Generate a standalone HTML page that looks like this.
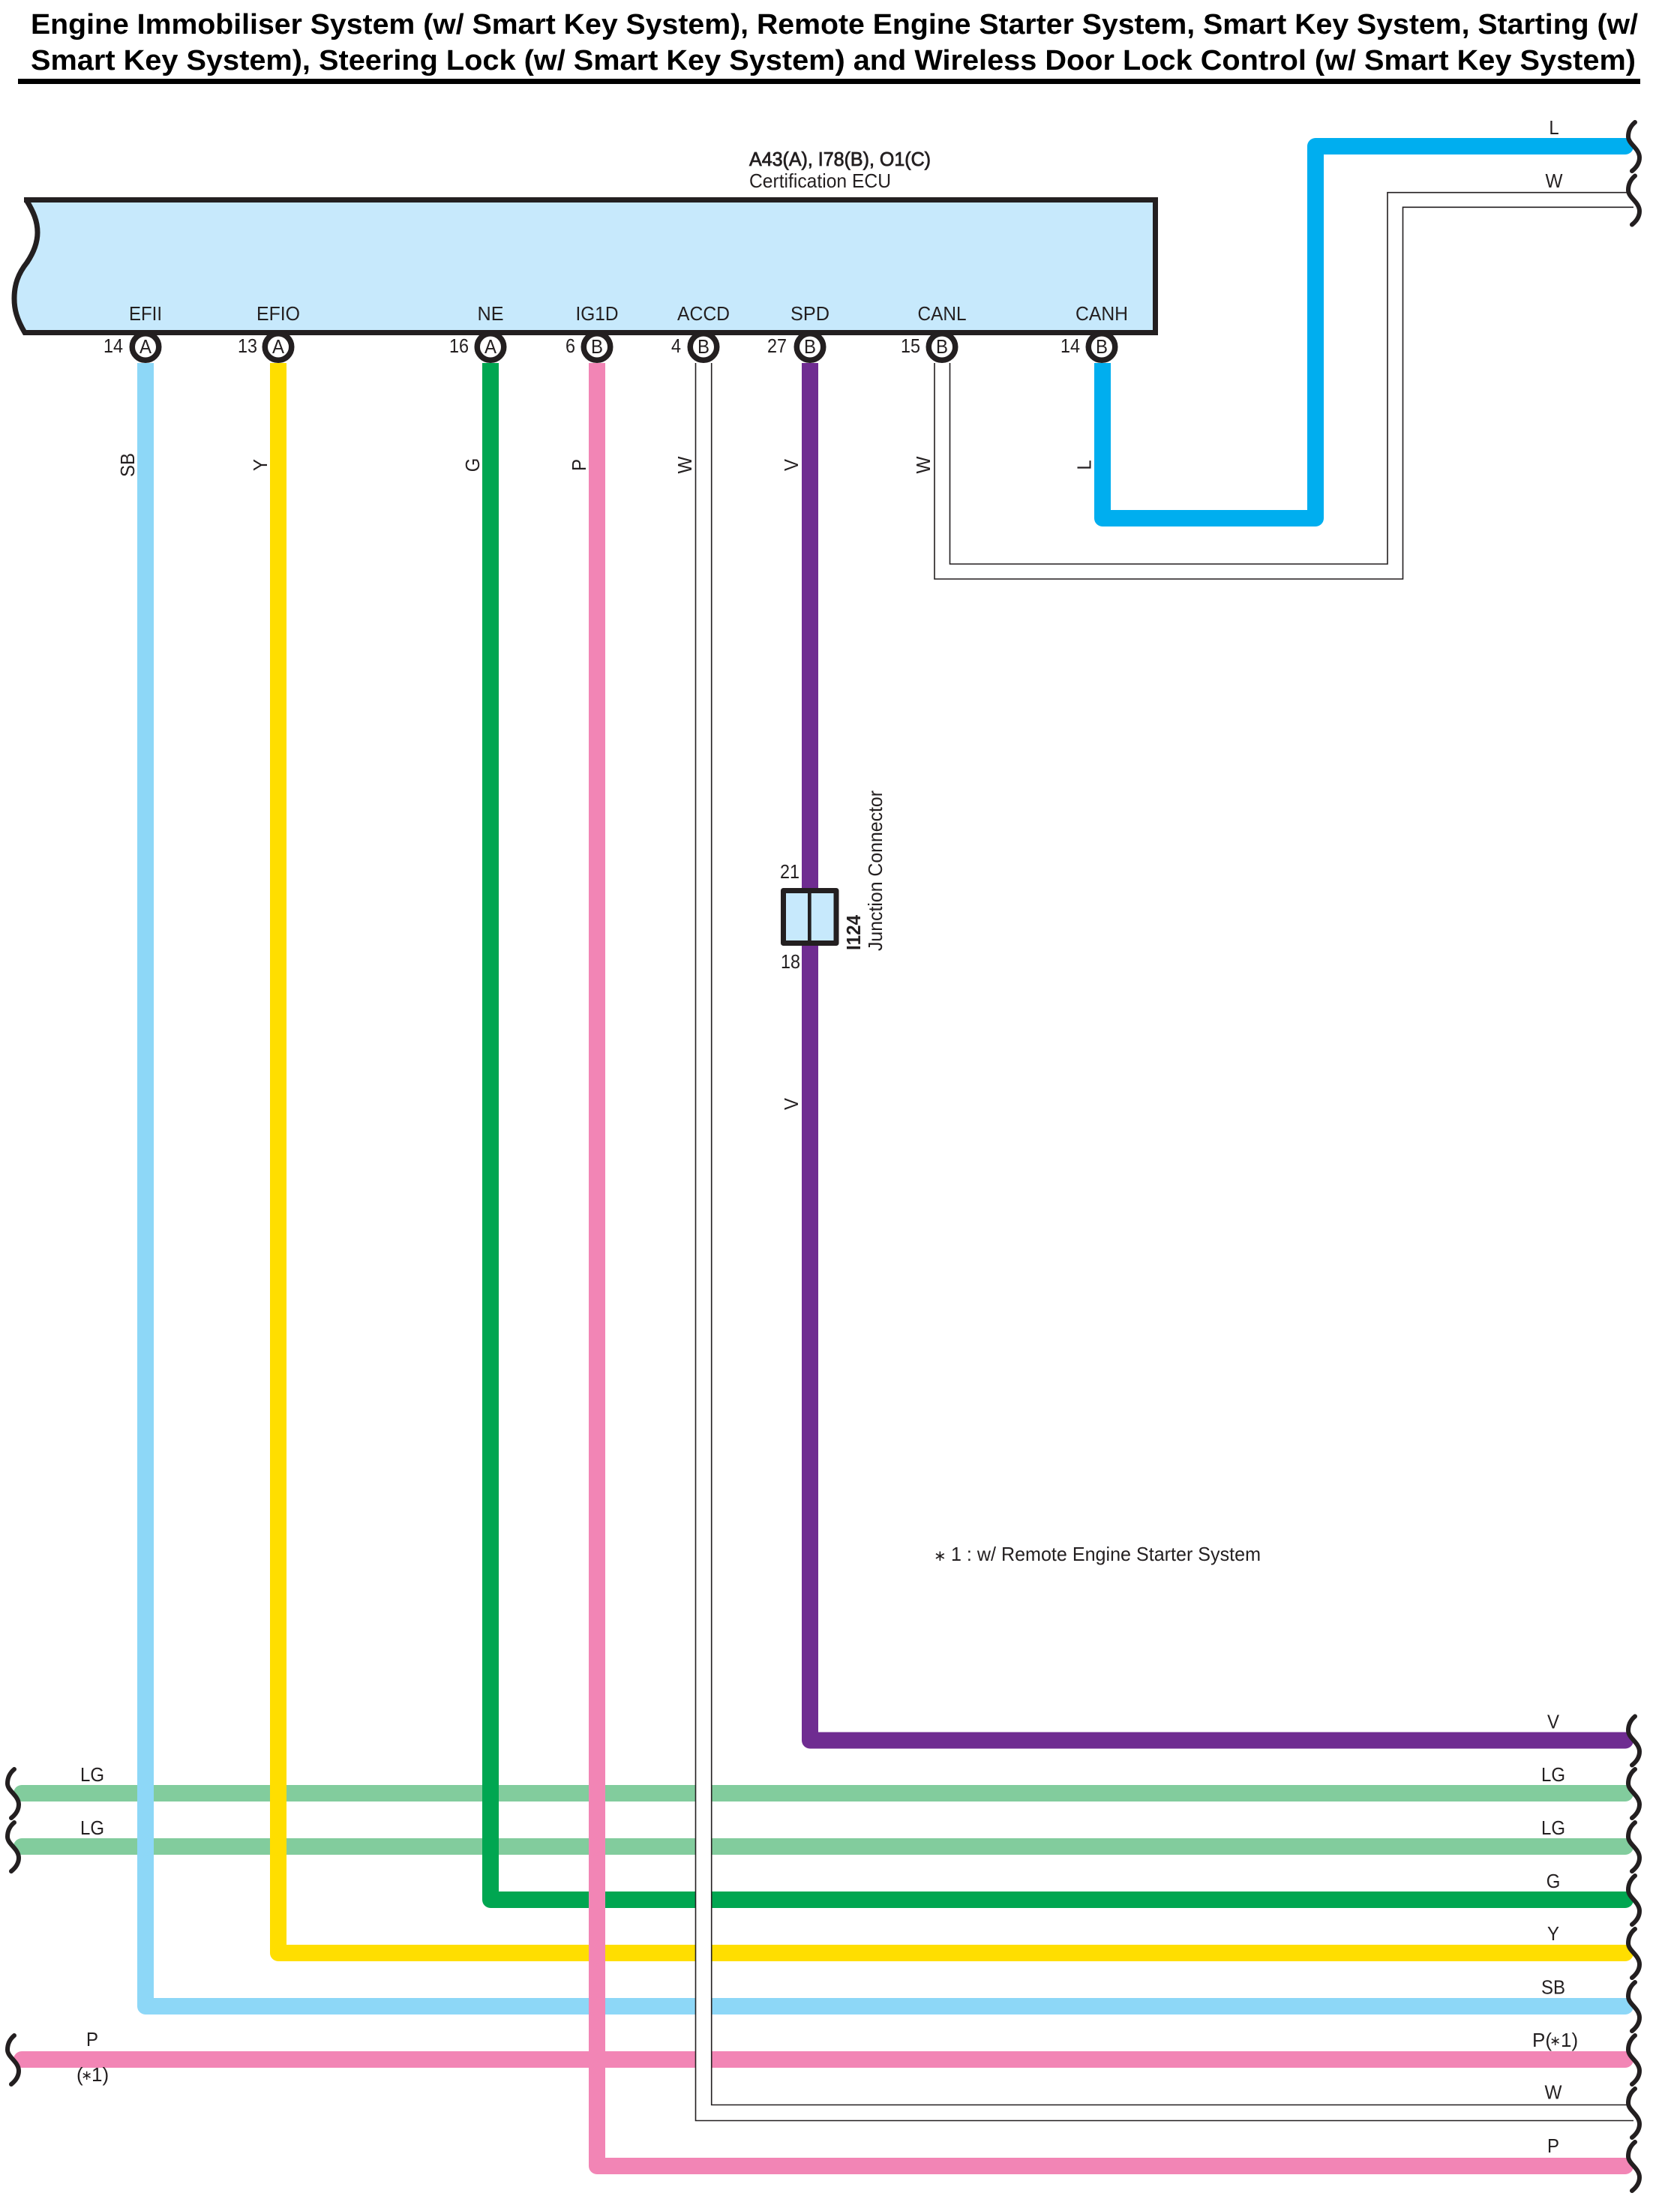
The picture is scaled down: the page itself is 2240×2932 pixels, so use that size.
<!DOCTYPE html>
<html lang="en">
<head>
<meta charset="utf-8">
<title>Engine Immobiliser System Wiring Diagram</title>
<style>
html,body{margin:0;padding:0;background:#fff;}
svg{display:block;}
text{font-family:"Liberation Sans",Arial,sans-serif;fill:#231f20;font-size:26px;}
.m{text-anchor:middle;}
.e{text-anchor:end;}
.t{font-size:38px;font-weight:bold;fill:#000;}
.w{fill:none;stroke-width:22;stroke-linejoin:round;stroke-linecap:butt;}
.r{stroke-linecap:round;}
.thin{fill:none;stroke:#231f20;stroke-width:1.6;}
.s{fill:none;stroke:#231f20;stroke-width:6;stroke-linecap:round;}
</style>
</head>
<body>
<svg xmlns="http://www.w3.org/2000/svg" width="2240" height="2932" viewBox="0 0 2240 2932">
<defs>
<path id="sq" class="s" d="M10,-32 C4,-27 1,-20 1,-13 C1,-3 16,3 16,15 C16,23 11,29 6,33"/>
</defs>
<rect width="2240" height="2932" fill="#fff"/>

<!-- Title -->
<text class="t" x="41" y="45" textLength="2143" lengthAdjust="spacingAndGlyphs">Engine Immobiliser System (w/ Smart Key System), Remote Engine Starter System, Smart Key System, Starting (w/</text>
<text class="t" x="41" y="93" textLength="2140" lengthAdjust="spacingAndGlyphs">Smart Key System), Steering Lock (w/ Smart Key System) and Wireless Door Lock Control (w/ Smart Key System)</text>
<rect x="24" y="105" width="2163" height="7" fill="#000"/>

<!-- Component heading -->
<text x="999" y="221" textLength="242" lengthAdjust="spacingAndGlyphs" stroke="#231f20" stroke-width="0.8">A43(A), I78(B), O1(C)</text>
<text x="999" y="250" textLength="189" lengthAdjust="spacingAndGlyphs">Certification ECU</text>

<!-- Horizontal LG and P wires -->
<path class="w r" stroke="#82cc9d" d="M29,2391 H2167"/>
<path class="w r" stroke="#82cc9d" d="M29,2462 H2167"/>
<path class="w r" stroke="#f285b5" d="M29,2746 H2167"/>

<!-- Main wires -->
<path class="w r" stroke="#8dd7f7" d="M194,484 V2675 H2167" style="stroke-linecap:butt"/>
<path class="w r" stroke="#ffde00" d="M371,484 V2604 H2167" style="stroke-linecap:butt"/>
<path class="w r" stroke="#00a651" d="M654,484 V2533 H2167" style="stroke-linecap:butt"/>
<path class="w r" stroke="#6f2c91" d="M1080,484 V2320.5 H2167" style="stroke-linecap:butt"/>
<circle cx="2167" cy="2675" r="11" fill="#8dd7f7"/>
<circle cx="2167" cy="2604" r="11" fill="#ffde00"/>
<circle cx="2167" cy="2533" r="11" fill="#00a651"/>
<circle cx="2167" cy="2320.5" r="11" fill="#6f2c91"/>

<!-- W wire from ACCD, covering horizontals -->
<path d="M928,484 H948.7 V2806.5 H2178 V2827.5 H928 Z" fill="#fff" stroke="none"/>
<path class="thin" d="M927.5,484 V2827.5 H2178"/>
<path class="thin" d="M948.7,484 V2806.5 H2171"/>

<!-- Pink IG1D -->
<path class="w" stroke="#f285b5" d="M796,484 V2888 H2167"/>
<circle cx="2167" cy="2888" r="11" fill="#f285b5"/>

<!-- CANH L -->
<path class="w" stroke="#00aeef" d="M1470,484 V691 H1754 V195 H2167"/>
<circle cx="2167" cy="195" r="11" fill="#00aeef"/>

<!-- CANL W -->
<path class="thin" d="M1266.5,484 V752 H1850 V256.7 H2171"/>
<path class="thin" d="M1246,484 V772 H1870.5 V276.3 H2178"/>

<!-- ECU -->
<path d="M32,266.5 H1540.5 V443.5 H33 C22,425 19,412 19,398 C19,380 24,365 36,350 C46,335 50,322 50,310 C50,295 45,283 35,266.5 Z" fill="#c7e9fc" stroke="#231f20" stroke-width="7" stroke-linejoin="miter"/>

<g fill="#fff" stroke="#231f20" stroke-width="7.5">
<circle cx="194" cy="462.5" r="17.75"/>
<circle cx="371" cy="462.5" r="17.75"/>
<circle cx="654" cy="462.5" r="17.75"/>
<circle cx="796" cy="462.5" r="17.75"/>
<circle cx="938" cy="462.5" r="17.75"/>
<circle cx="1080" cy="462.5" r="17.75"/>
<circle cx="1256" cy="462.5" r="17.75"/>
<circle cx="1469" cy="462.5" r="17.75"/>
</g>

<!-- ECU pin names -->
<text class="m" x="194" y="427" textLength="44" lengthAdjust="spacingAndGlyphs">EFII</text>
<text class="m" x="371" y="427" textLength="58" lengthAdjust="spacingAndGlyphs">EFIO</text>
<text class="m" x="654" y="427" textLength="35" lengthAdjust="spacingAndGlyphs">NE</text>
<text class="m" x="796" y="427" textLength="57" lengthAdjust="spacingAndGlyphs">IG1D</text>
<text class="m" x="938" y="427" textLength="70" lengthAdjust="spacingAndGlyphs">ACCD</text>
<text class="m" x="1080" y="427" textLength="52" lengthAdjust="spacingAndGlyphs">SPD</text>
<text class="m" x="1256" y="427" textLength="65" lengthAdjust="spacingAndGlyphs">CANL</text>
<text class="m" x="1469" y="427" textLength="70" lengthAdjust="spacingAndGlyphs">CANH</text>

<!-- Pin letters -->
<g>
<text class="m" x="194" y="471" textLength="16" lengthAdjust="spacingAndGlyphs">A</text>
<text class="m" x="371" y="471" textLength="16" lengthAdjust="spacingAndGlyphs">A</text>
<text class="m" x="654" y="471" textLength="16" lengthAdjust="spacingAndGlyphs">A</text>
<text class="m" x="796" y="471" textLength="16" lengthAdjust="spacingAndGlyphs">B</text>
<text class="m" x="938" y="471" textLength="16" lengthAdjust="spacingAndGlyphs">B</text>
<text class="m" x="1080" y="471" textLength="16" lengthAdjust="spacingAndGlyphs">B</text>
<text class="m" x="1256" y="471" textLength="16" lengthAdjust="spacingAndGlyphs">B</text>
<text class="m" x="1469" y="471" textLength="16" lengthAdjust="spacingAndGlyphs">B</text>
</g>

<!-- Pin numbers -->
<text x="138" y="470" textLength="26" lengthAdjust="spacingAndGlyphs">14</text>
<text x="317" y="470" textLength="26" lengthAdjust="spacingAndGlyphs">13</text>
<text x="599" y="470" textLength="26" lengthAdjust="spacingAndGlyphs">16</text>
<text x="754" y="470" textLength="13" lengthAdjust="spacingAndGlyphs">6</text>
<text x="895" y="470" textLength="13" lengthAdjust="spacingAndGlyphs">4</text>
<text x="1023" y="470" textLength="26" lengthAdjust="spacingAndGlyphs">27</text>
<text x="1201" y="470" textLength="26" lengthAdjust="spacingAndGlyphs">15</text>
<text x="1414" y="470" textLength="26" lengthAdjust="spacingAndGlyphs">14</text>

<!-- Rotated wire labels -->
<text class="m" transform="translate(179,620) rotate(-90)" textLength="32" lengthAdjust="spacingAndGlyphs">SB</text>
<text class="m" transform="translate(356,620) rotate(-90)" textLength="16" lengthAdjust="spacingAndGlyphs">Y</text>
<text class="m" transform="translate(639,620) rotate(-90)" textLength="18.6" lengthAdjust="spacingAndGlyphs">G</text>
<text class="m" transform="translate(781,620) rotate(-90)" textLength="16" lengthAdjust="spacingAndGlyphs">P</text>
<text class="m" transform="translate(922,620) rotate(-90)" textLength="23" lengthAdjust="spacingAndGlyphs">W</text>
<text class="m" transform="translate(1064,620) rotate(-90)" textLength="16" lengthAdjust="spacingAndGlyphs">V</text>
<text class="m" transform="translate(1240,620) rotate(-90)" textLength="23" lengthAdjust="spacingAndGlyphs">W</text>
<text class="m" transform="translate(1454.5,620) rotate(-90)" textLength="13.3" lengthAdjust="spacingAndGlyphs">L</text>
<text class="m" transform="translate(1064,1472) rotate(-90)" textLength="16" lengthAdjust="spacingAndGlyphs">V</text>

<!-- Junction connector -->
<rect x="1044.5" y="1187.5" width="70.5" height="70" fill="#c7e9fc" stroke="#231f20" stroke-width="7" stroke-linejoin="round"/>
<rect x="1077" y="1187" width="4.7" height="71" fill="#231f20"/>
<text x="1040" y="1171" textLength="26" lengthAdjust="spacingAndGlyphs">21</text>
<text x="1041" y="1291" textLength="26" lengthAdjust="spacingAndGlyphs">18</text>
<text transform="translate(1147,1267) rotate(-90)" style="font-weight:bold" textLength="47" lengthAdjust="spacingAndGlyphs">I124</text>
<text transform="translate(1176,1268) rotate(-90)" textLength="214" lengthAdjust="spacingAndGlyphs">Junction Connector</text>

<!-- Note -->
<text x="1245" y="2081" style="font-family:'DejaVu Sans',sans-serif;font-size:20px">∗</text>
<text x="1268" y="2081" textLength="413" lengthAdjust="spacingAndGlyphs">1 : w/ Remote Engine Starter System</text>

<!-- Right labels -->
<text class="m" x="2072" y="179" textLength="13.3" lengthAdjust="spacingAndGlyphs">L</text>
<text class="m" x="2072" y="250" textLength="23" lengthAdjust="spacingAndGlyphs">W</text>
<text class="m" x="2071" y="2304.5" textLength="16" lengthAdjust="spacingAndGlyphs">V</text>
<text class="m" x="2071" y="2375" textLength="32" lengthAdjust="spacingAndGlyphs">LG</text>
<text class="m" x="2071" y="2446" textLength="32" lengthAdjust="spacingAndGlyphs">LG</text>
<text class="m" x="2071" y="2517" textLength="18.6" lengthAdjust="spacingAndGlyphs">G</text>
<text class="m" x="2071" y="2587" textLength="16" lengthAdjust="spacingAndGlyphs">Y</text>
<text class="m" x="2071" y="2658.5" textLength="32" lengthAdjust="spacingAndGlyphs">SB</text>
<text x="2043" y="2729">P(</text>
<text x="2066" y="2727" style="font-family:'DejaVu Sans',sans-serif;font-size:18px">∗</text>
<text x="2081" y="2729">1)</text>
<text class="m" x="2071" y="2798.5" textLength="23" lengthAdjust="spacingAndGlyphs">W</text>
<text class="m" x="2071" y="2870" textLength="16" lengthAdjust="spacingAndGlyphs">P</text>

<!-- Left labels -->
<text class="m" x="123" y="2375" textLength="32" lengthAdjust="spacingAndGlyphs">LG</text>
<text class="m" x="123" y="2446" textLength="32" lengthAdjust="spacingAndGlyphs">LG</text>
<text class="m" x="123" y="2728" textLength="16" lengthAdjust="spacingAndGlyphs">P</text>
<text x="102" y="2775">(</text>
<text x="108" y="2773" style="font-family:'DejaVu Sans',sans-serif;font-size:18px">∗</text>
<text x="122" y="2775">1)</text>

<!-- Squiggles right -->
<use href="#sq" x="2170" y="195"/>
<use href="#sq" x="2170" y="266.5"/>
<use href="#sq" x="2170" y="2320.5"/>
<use href="#sq" x="2170" y="2391"/>
<use href="#sq" x="2170" y="2462"/>
<use href="#sq" x="2170" y="2533"/>
<use href="#sq" x="2170" y="2604"/>
<use href="#sq" x="2170" y="2675"/>
<use href="#sq" x="2170" y="2746"/>
<use href="#sq" x="2170" y="2817"/>
<use href="#sq" x="2170" y="2888"/>
<!-- Squiggles left -->
<use href="#sq" x="9" y="2391"/>
<use href="#sq" x="9" y="2462"/>
<use href="#sq" x="9" y="2746"/>
</svg>
</body>
</html>
